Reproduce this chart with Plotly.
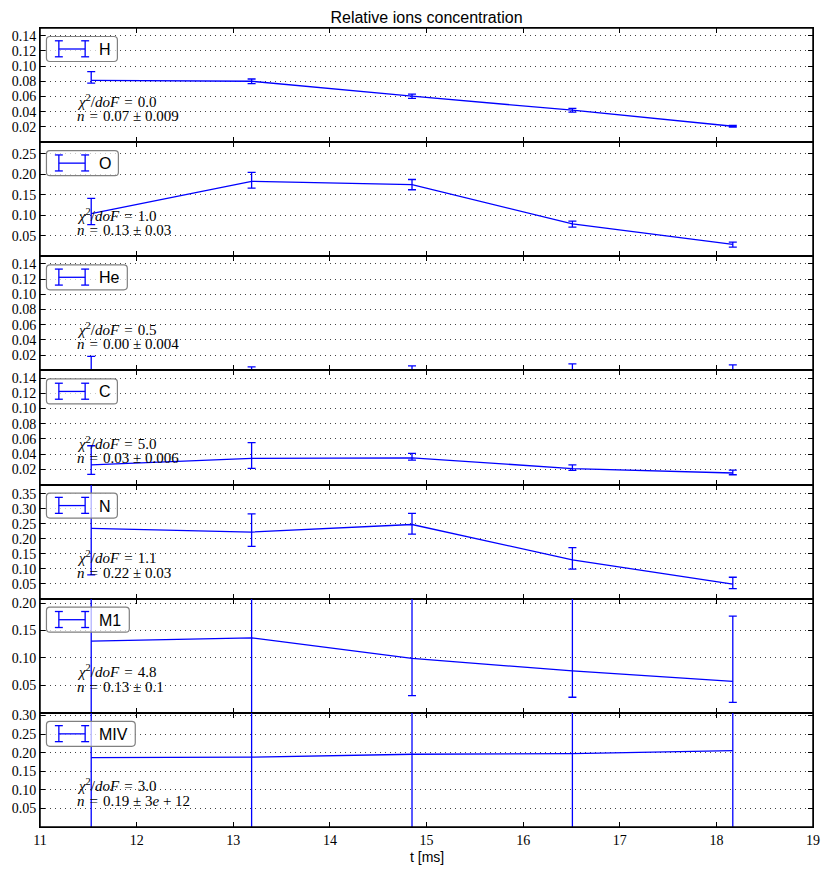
import plotly.graph_objects as go
from plotly.subplots import make_subplots

# ---------------- data ----------------
t_ms = [11.53, 13.19, 14.85, 16.51, 18.17]
ions = ["H", "O", "He", "C", "N", "M1", "MIV"]

H_val = [0.0813, 0.0800, 0.0604, 0.0420, 0.0209]
H_err_plus = [0.0113, 0.0030, 0.0028, 0.0025, 0.0010]
H_err_minus = [0.0038, 0.0030, 0.0028, 0.0025, 0.0010]

O_val = [0.104, 0.1825, 0.1744, 0.079, 0.029]
O_err_plus = [0.037, 0.022, 0.0126, 0.0068, 0.0056]
O_err_minus = [0.027, 0.0165, 0.0124, 0.0078, 0.0065]

He_val = [0.0, 0.0, 0.0, 0.0, 0.0]
He_err_plus = [0.0185, 0.0048, 0.0060, 0.0087, 0.0074]
He_err_minus = [0.0, 0.0, 0.0, 0.0, 0.0]

C_val = [0.026, 0.0344, 0.0352, 0.0210, 0.0152]
C_err_plus = [0.025, 0.0208, 0.0058, 0.0050, 0.0038]
C_err_minus = [0.0125, 0.0131, 0.0030, 0.0023, 0.0023]

N_val = [0.2347, 0.2225, 0.2477, 0.1295, 0.0487]
N_err_plus = [0.46, 0.061, 0.037, 0.041, 0.023]
N_err_minus = [0.155, 0.048, 0.032, 0.031, 0.015]

M1_val = [0.1306, 0.1368, 0.0993, 0.0764, 0.0572]
M1_err_plus = [0.30, 0.30, 0.20, 0.20, 0.119]
M1_err_minus = [0.20, 0.20, 0.068, 0.048, 0.038]

MIV_val = [0.1867, 0.1877, 0.1957, 0.1973, 0.2053]
MIV_err_plus = [1.0, 1.0, 1.0, 1.0, 1.0]
MIV_err_minus = [1.0, 1.0, 1.0, 1.0, 1.0]

chi2_dof = ["0.0", "1.0", "0.5", "5.0", "1.1", "4.8", "3.0"]
n_fit = ["0.07 ± 0.009", "0.13 ± 0.03", "0.00 ± 0.004", "0.03 ± 0.006",
         "0.22 ± 0.03", "0.13 ± 0.1", "0.19 ± 3<i>e</i> + 12"]

y_top = [0.150, 0.278, 0.150, 0.150, 0.381, 0.208, 0.307]
y_ticks = [
    [0.02, 0.04, 0.06, 0.08, 0.10, 0.12, 0.14],
    [0.05, 0.10, 0.15, 0.20, 0.25],
    [0.02, 0.04, 0.06, 0.08, 0.10, 0.12, 0.14],
    [0.02, 0.04, 0.06, 0.08, 0.10, 0.12, 0.14],
    [0.05, 0.10, 0.15, 0.20, 0.25, 0.30, 0.35],
    [0.05, 0.10, 0.15, 0.20],
    [0.05, 0.10, 0.15, 0.20, 0.25, 0.30],
]
x_ticks = [11, 12, 13, 14, 15, 16, 17, 18, 19]

series = [
    (H_val, H_err_plus, H_err_minus),
    (O_val, O_err_plus, O_err_minus),
    (He_val, He_err_plus, He_err_minus),
    (C_val, C_err_plus, C_err_minus),
    (N_val, N_err_plus, N_err_minus),
    (M1_val, M1_err_plus, M1_err_minus),
    (MIV_val, MIV_err_plus, MIV_err_minus),
]

# ---------------- style / layout ----------------
W, H = 832, 872
ML, MR, MT, MB = 38, 15, 28, 45
PLOT_W = W - ML - MR
PANEL_H = (H - MT - MB) / 7.0
BLUE = "#0000ff"
SERIF = "Liberation Serif"
SANS = "Liberation Sans"
legend_box_right = {"H": 116, "O": 117, "He": 126, "C": 116, "N": 116, "M1": 128, "MIV": 134}

fig = make_subplots(rows=7, cols=1, shared_xaxes=True, vertical_spacing=0)

for i, (vals, ep, em) in enumerate(series):
    fig.add_trace(
        go.Scatter(
            x=t_ms, y=vals, mode="lines",
            line=dict(color=BLUE, width=1.3),
            error_y=dict(type="data", symmetric=False, array=ep, arrayminus=em,
                         color=BLUE, thickness=1.3, width=4),
            showlegend=False, hoverinfo="skip",
        ),
        row=i + 1, col=1,
    )
    fig.update_yaxes(
        range=[0, y_top[i]], tickvals=y_ticks[i],
        ticktext=["%.2f" % v for v in y_ticks[i]],
        ticks="inside", ticklen=5, tickwidth=1, tickcolor="black",
        mirror="ticks", showline=True, linecolor="black", linewidth=1,
        showgrid=True, gridcolor="#444444", gridwidth=1, griddash="1px,4px",
        zeroline=False, tickfont=dict(family=SERIF, size=14, color="black"),
        row=i + 1, col=1,
    )
    fig.update_xaxes(
        range=[11, 19], tickvals=x_ticks, ticktext=[str(v) for v in x_ticks],
        ticks="inside", ticklen=5, tickwidth=1, tickcolor="black",
        mirror="ticks", showline=True, linecolor="black", linewidth=1,
        showgrid=False, zeroline=False,
        tickfont=dict(family=SERIF, size=14, color="black"),
        showticklabels=(i == 6),
        row=i + 1, col=1,
    )

def fx(px):
    return (px - ML) / PLOT_W

def fy(dy):
    return 1 - dy / PANEL_H

shapes = []
annotations = []
for i, ion in enumerate(ions):
    sfx = "" if i == 0 else str(i + 1)
    xr, yr = "x%s domain" % sfx, "y%s domain" % sfx
    # legend frame (rounded)
    x0, x1 = fx(44.5), fx(legend_box_right[ion])
    y1, y0 = fy(8.5), fy(33.5)
    rx, ry = 3.5 / PLOT_W, 3.5 / PANEL_H
    path = (f"M {x0+rx},{y1} L {x1-rx},{y1} Q {x1},{y1} {x1},{y1-ry} "
            f"L {x1},{y0+ry} Q {x1},{y0} {x1-rx},{y0} L {x0+rx},{y0} "
            f"Q {x0},{y0} {x0},{y0+ry} L {x0},{y1-ry} Q {x0},{y1} {x0+rx},{y1} Z")
    shapes.append(dict(type="path", path=path, xref=xr, yref=yr, layer="above",
                       line=dict(color="#808080", width=1.2),
                       fillcolor="rgba(255,255,255,0.7)"))
    # legend error-bar glyph
    gl = dict(color=BLUE, width=1.3)
    shapes.append(dict(type="line", xref=xr, yref=yr, layer="above", line=gl,
                       x0=fx(57), x1=fx(83.5), y0=fy(21), y1=fy(21)))
    for gx in (57, 83.5):
        shapes.append(dict(type="line", xref=xr, yref=yr, layer="above", line=gl,
                           x0=fx(gx), x1=fx(gx), y0=fy(12.8), y1=fy(28.8)))
        for gy in (12.8, 28.8):
            shapes.append(dict(type="line", xref=xr, yref=yr, layer="above", line=gl,
                               x0=fx(gx - 4), x1=fx(gx + 4), y0=fy(gy), y1=fy(gy)))
    annotations.append(dict(text=ion, xref=xr, yref=yr, x=fx(95), y=fy(21.5),
                            xanchor="left", yanchor="middle", showarrow=False,
                            font=dict(family=SANS, size=16, color="black")))
    # fit text
    annotations.append(dict(text="<i>χ</i><sup>2</sup>/<i>doF</i>&#8196;=&#8196;" + chi2_dof[i],
                            xref=xr, yref=yr, x=fx(73), y=fy(72.5),
                            xanchor="left", yanchor="middle", showarrow=False,
                            font=dict(family=SERIF, size=15, color="black")))
    annotations.append(dict(text="<i>n</i>&#8196;=&#8196;" + n_fit[i],
                            xref=xr, yref=yr, x=fx(73), y=fy(88),
                            xanchor="left", yanchor="middle", showarrow=False,
                            font=dict(family=SERIF, size=15, color="black")))

annotations.append(dict(text="t [ms]", xref="paper", yref="paper", x=0.5, y=0,
                        xanchor="center", yanchor="top", yshift=-20, showarrow=False,
                        font=dict(family=SANS, size=14, color="black")))

# outer frame slightly heavier, like the reference
shapes.append(dict(type="rect", xref="paper", yref="paper", x0=0, x1=1, y0=0, y1=1,
                   line=dict(color="black", width=1.5), layer="above"))

fig.update_layout(
    width=W, height=H,
    margin=dict(l=ML, r=MR, t=MT, b=MB),
    paper_bgcolor="white", plot_bgcolor="white",
    title=dict(text="Relative ions concentration", x=0.5, xref="paper",
               y=1 - 17 / H, yref="container", xanchor="center", yanchor="middle",
               font=dict(family=SANS, size=16, color="black")),
    shapes=shapes, annotations=annotations, showlegend=False,
)

fig.write_html("out.html")
